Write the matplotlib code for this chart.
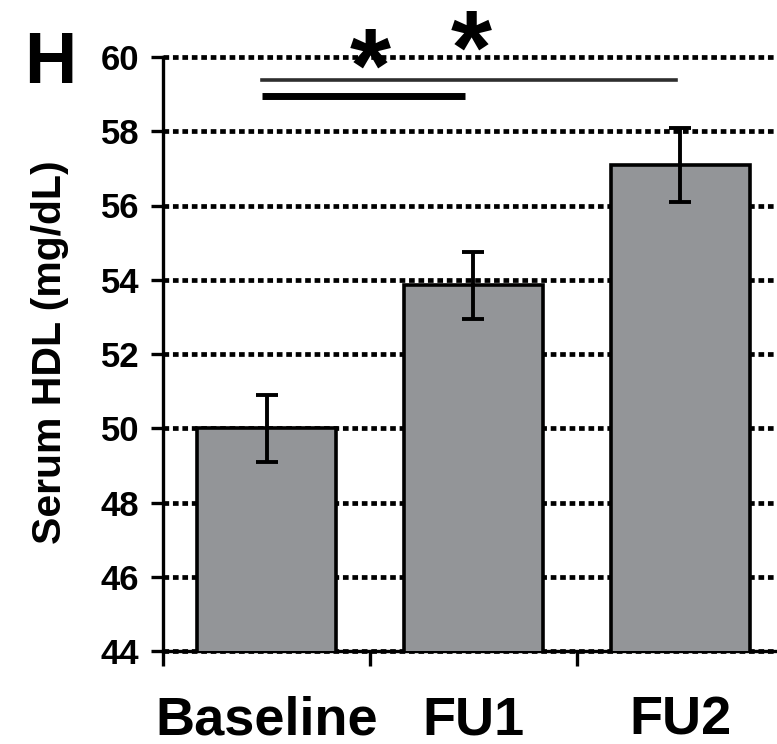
import numpy as np
import matplotlib.pyplot as plt

# Dados do gráfico (HDL sérico, média e erro padrão)
grupos = ['Baseline', 'FU1', 'FU2']
hdl = [50.0, 53.85, 57.1]
erro = [0.9, 0.9, 1.0]
yticks = [44, 46, 48, 50, 52, 54, 56, 58, 60]

plt.rcParams['font.family'] = ['Liberation Sans', 'DejaVu Sans']
plt.rcParams['font.weight'] = 'bold'

fig = plt.figure(figsize=(7.77, 7.44), dpi=100)
ax = fig.add_axes([163 / 777, 1 - 651 / 744, 621 / 777, 594 / 744])

x = np.arange(len(grupos))
ax.bar(x, hdl, width=0.67, color='#939598', edgecolor='black', linewidth=2.6, zorder=3)
ax.errorbar(x, hdl, yerr=erro, fmt='none', ecolor='black', elinewidth=2.8,
            capsize=8, capthick=2.8, zorder=4)

ax.set_xlim(-0.5, 2.5)
ax.set_ylim(44, 60)
ax.set_yticks(yticks)
ax.set_axisbelow(True)
ax.yaxis.grid(True, color='black', linestyle=(0, (1.2, 0.8)), linewidth=3.4)
for linha in ax.get_ygridlines():
    linha.set_clip_on(False)

for lado in ['top', 'right']:
    ax.spines[lado].set_visible(False)
for lado in ['left', 'bottom']:
    ax.spines[lado].set_linewidth(2.4)

ax.tick_params(axis='y', direction='out', length=9, width=2.4, labelsize=25, pad=8)
ax.set_xticks(x)
ax.set_xticklabels(grupos)
ax.tick_params(axis='x', which='major', length=0, labelsize=39, pad=32)
ax.set_xticks([-0.5, 0.5, 1.5], minor=True)
ax.tick_params(axis='x', which='minor', direction='out', length=11, width=2.4)

fig.text(50 / 777, 1 - 352 / 744, 'Serum HDL (mg/dL)', rotation=90,
         ha='center', va='center', fontsize=29.5)
fig.text(50 / 777, 1 - 83 / 744, 'H', ha='center', va='baseline', fontsize=52)

# Linhas de significância e asteriscos
ax.plot([-0.02, 1.98], [59.38, 59.38], color='#2e2e2e', lw=2.6, clip_on=False, zorder=5)
ax.plot([-0.02, 0.96], [58.94, 58.94], color='black', lw=5, solid_capstyle='butt',
        clip_on=False, zorder=5)
ax.text(0.5, 58.8, '*', ha='center', va='baseline', fontsize=76, clip_on=False, zorder=6)
ax.text(0.99, 59.28, '*', ha='center', va='baseline', fontsize=76, clip_on=False, zorder=6)

fig.savefig('out.png', dpi=100)
